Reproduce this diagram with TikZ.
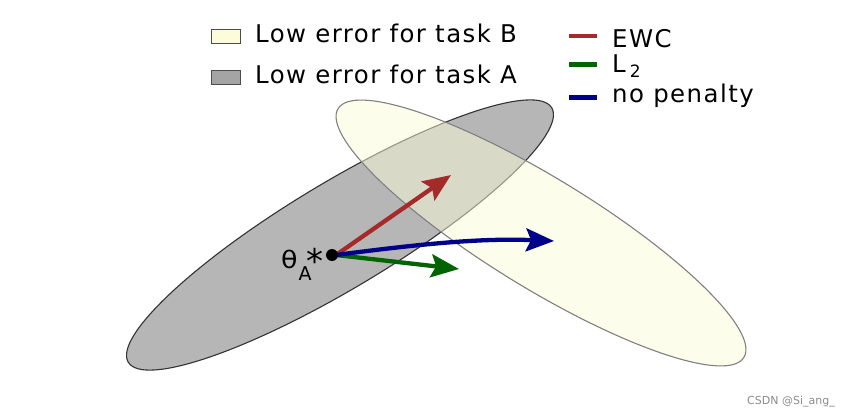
\documentclass[tikz,border=0pt]{standalone}
\usepackage{fontspec}
\setmainfont{DejaVu Sans}[LetterSpace=6]
\newfontfamily\plainfont{DejaVu Sans}
\usetikzlibrary{arrows.meta}
\definecolor{ewcred}{RGB}{165,42,42}
\definecolor{ltwogreen}{RGB}{0,100,0}
\definecolor{nopblue}{RGB}{0,0,139}
\definecolor{greyfill}{RGB}{182,182,182}
\definecolor{yelfill}{RGB}{252,252,218}
\tikzset{
  legtext/.style={anchor=base west, inner sep=0pt, font=\fontsize{24.4}{26}\selectfont},
  legbox/.style={draw=black!70, line width=0.8pt},
  legline/.style={line width=4.5pt},
  arr/.style={line width=4.3pt, -{Stealth[length=28pt,width=23pt,inset=5pt]}},
}
\begin{document}
\begin{tikzpicture}[x=1pt,y=1pt]
\useasboundingbox (0,0) rectangle (851,416);
% regions
\draw[fill=greyfill, draw=black!80, line width=1.1pt] (340,181) ellipse [x radius=247, y radius=53, rotate=31];
\draw[fill=yelfill, fill opacity=0.5, draw=black!50, line width=1.1pt] (541,183) ellipse [x radius=238, y radius=55, rotate=-31.5];
% arrows
\coordinate (s) at (336,161);
\coordinate (ewcend) at (451,241);
\coordinate (l2end) at (459,147);
\coordinate (npend) at (554,175);
\draw[arr, ewcred] (s) -- (ewcend);
\draw[arr, ltwogreen] (s) -- (l2end);
\draw[arr, nopblue] (s) .. controls (420,172) and (480,178) .. (npend);
\node[circle, fill=black, inner sep=0pt, minimum size=12pt] (dot) at (332,161) {};
\node[anchor=base west, inner sep=0pt, font=\plainfont] (theta) at (281,148)
  {\scalebox{1.12}[1]{\fontsize{24}{24}\selectfont θ}\hspace{1pt}\raisebox{-12pt}{\fontsize{19}{19}\selectfont A}\hspace{-5pt}\raisebox{-5.5pt}{\fontsize{34}{34}\selectfont *}};
% legend left
\node[legbox, fill=yelfill, minimum width=29pt, minimum height=14pt, inner sep=0pt] (boxB) at (226,380) {};
\node[legbox, fill=greyfill!90!black, minimum width=29pt, minimum height=14pt, inner sep=0pt] (boxA) at (226,339) {};
\node[legtext] (txtB) at (255,373) {Low error for task B};
\node[legtext] (txtA) at (255,332) {Low error for task A};
% legend right
\coordinate (r1) at (569,380);
\coordinate (r2) at (597,380);
\coordinate (g1) at (569,351.5);
\coordinate (g2) at (597,351.5);
\coordinate (b1) at (569,318.5);
\coordinate (b2) at (597,318.5);
\draw[legline, ewcred] (r1) -- (r2);
\draw[legline, ltwogreen] (g1) -- (g2);
\draw[legline, nopblue] (b1) -- (b2);
\node[legtext] (tEWC) at (612,368) {EWC};
\node[legtext] (tL2) at (612,343) {L\,\raisebox{-5pt}{\fontsize{17}{18}\selectfont 2}};
\node[legtext] (tnp) at (612,314) {no penalty};
% watermark
\node[anchor=base east, inner sep=0pt, text=black!45, font=\plainfont\fontsize{11}{12}\selectfont] (wm) at (835,12) {CSDN @Si\_ang\_};
\end{tikzpicture}
\end{document}
